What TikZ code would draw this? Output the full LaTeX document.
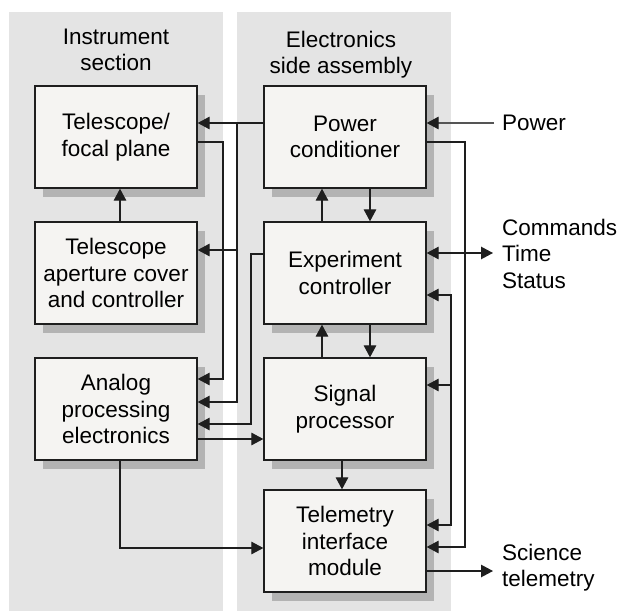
\documentclass[tikz,border=0pt]{standalone}
\usepackage{fontspec}
\setmainfont{Liberation Sans}
\usetikzlibrary{arrows.meta,shadows}
\definecolor{panel}{HTML}{E4E4E4}
\definecolor{boxfill}{HTML}{F5F4F2}
\definecolor{shade}{HTML}{B3B3B3}
\definecolor{ink}{HTML}{1E1E1E}
\definecolor{pline}{HTML}{555555}
\newcommand\dgfont{\fontsize{22.5}{26.5}\selectfont}
\begin{document}
\begin{tikzpicture}[x=1pt,y=-1pt,
  >={Triangle[length=12pt,width=12.5pt]},
  box/.style={draw=ink, line width=1.3pt, fill=boxfill, minimum width=162pt,
    minimum height=102pt, inner sep=0pt, align=center, font=\dgfont,
    general shadow={fill=shade, draw=none, shadow xshift=7.5pt, shadow yshift=-9pt}},
  lab/.style={inner sep=0pt, align=left, font=\dgfont},
  title/.style={inner sep=0pt, align=center, font=\dgfont},
  conn/.style={draw=ink, line width=1.2pt}]
\useasboundingbox (0,0) rectangle (622,611);
\fill[panel] (9,12) rectangle (223,611);
\fill[panel] (237,12) rectangle (451,611);
\node[title, anchor=north] (tI) at (116,28.5) {Instrument\\section};
\node[title, anchor=north] (tE) at (341,30.5) {Electronics\\side assembly};
\node[box] (tel) at (116,137) {Telescope/\\focal plane};
\node[box] (ap) at (116,273) {Telescope\\aperture cover\\and controller};
\node[box] (ana) at (116,409) {Analog\\processing\\electronics};
\node[box] (pc) at (345,137) {Power\\conditioner};
\node[box] (ec) at (345,273) {Experiment\\controller};
\node[box] (sp) at (345,409) {Signal\\processor};
\node[box] (tm) at (345,541) {Telemetry\\interface\\module};
\node[lab, anchor=base west] (lp) at (502,130.5) {Power};
\node[lab, anchor=north west] (lc) at (502,218.6) {Commands\\Time\\Status};
\node[lab, anchor=north west] (ls) at (502,543.6) {Science\\telemetry};
\coordinate (jA) at (237,123);
\coordinate (jB) at (237,250);
\coordinate (cA) at (223,379);
\coordinate (cB) at (251,424);
\coordinate (cC) at (465,547);
\coordinate (cD) at (451,525);
\coordinate (jD) at (451,385);
\coordinate (pw) at (494,123);
\coordinate (cm) at (493,253);
\coordinate (st) at (493,571);
% left side wiring
\draw[conn,->] (pc.west |- jA) -- (tel.east |- jA);
\draw[conn,->] (jA) |- (ana.east |- 0,402);
\draw[conn,->] (jB) -- (ap.east |- jB);
\draw[conn,->] (tel.east |- 0,142) -| (cA) -- (ana.east |- cA);
\draw[conn,->] (ec.west |- 0,254) -| (cB) -- (ana.east |- cB);
\draw[conn,->] (ana.east |- 0,439) -- (sp.west |- 0,439);
\draw[conn,->] (ana.south -| 120,0) |- (tm.west |- 0,548);
\draw[conn,->] (ap.north -| 120,0) -- (tel.south -| 120,0);
% vertical links right column
\draw[conn,->] (ec.north -| 322,0) -- (pc.south -| 322,0);
\draw[conn,->] (pc.south -| 370,0) -- (ec.north -| 370,0);
\draw[conn,->] (sp.north -| 322,0) -- (ec.south -| 322,0);
\draw[conn,->] (ec.south -| 370,0) -- (sp.north -| 370,0);
\draw[conn,->] (sp.south -| 342,0) -- (tm.north -| 342,0);
% right side wiring
\draw[conn,draw=pline,-{Triangle[length=12pt,width=12.5pt,fill=ink,color=ink]}] (pw) -- (pc.east |- pw);
\draw[conn,->] (pc.east |- 0,142) -| (cC) -- (tm.east |- cC);
\draw[conn,<->] (ec.east |- 0,295) -| (cD) -- (tm.east |- cD);
\draw[conn,->] (jD) -- (sp.east |- jD);
\draw[conn,<->] (ec.east |- cm) -- (cm);
\draw[conn,->] (tm.east |- st) -- (st);
\end{tikzpicture}
\end{document}
